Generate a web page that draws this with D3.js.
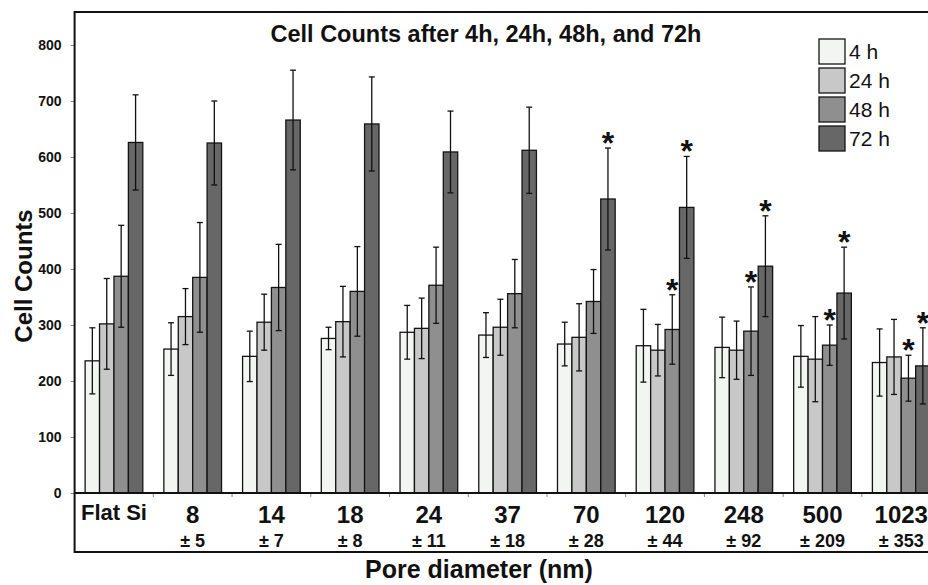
<!DOCTYPE html>
<html>
<head>
<meta charset="utf-8">
<script src="https://cdn.jsdelivr.net/npm/d3@7"></script>
<style>
  body { margin: 0; background: #fff; }
  svg text { font-family: "Liberation Sans", Arial, sans-serif; }
</style>
</head>
<body>
<svg id="chart" width="928" height="585"></svg>
<script>
// pore diameter groups and their spread
const categories = ["Flat Si", "8", "14", "18", "24", "37", "70", "120", "248", "500", "1023"];
const spreads = ["", "± 5", "± 7", "± 8", "± 11", "± 18", "± 28", "± 44", "± 92", "± 209", "± 353"];

const series = ["4 h", "24 h", "48 h", "72 h"];
const colors = ["#f3f5f3", "#c8c8c8", "#8f8f8f", "#676767"];

// mean cell counts per series
const h4 = [236, 257, 244, 276, 287, 282, 266, 263, 260, 244, 233];
const h24 = [302, 315, 305, 306, 294, 296, 278, 255, 255, 239, 243];
const h48 = [387, 385, 367, 360, 371, 356, 342, 292, 289, 264, 205];
const h72 = [626, 625, 666, 659, 609, 612, 525, 510, 405, 357, 227];

// error bar half-lengths
const h4err = [59, 47, 45, 20, 48, 40, 39, 65, 54, 55, 60];
const h24err = [81, 50, 50, 63, 54, 50, 60, 46, 52, 76, 67];
const h48err = [91, 98, 77, 80, 68, 61, 57, 62, 79, 36, 41];
const h72err = [85, 75, 89, 84, 73, 77, 91, 91, 90, 82, 68];

// significant bars (category, series)
const starred = [
  ["70", "72 h"],
  ["120", "48 h"], ["120", "72 h"],
  ["248", "48 h"], ["248", "72 h"],
  ["500", "48 h"], ["500", "72 h"],
  ["1023", "48 h"], ["1023", "72 h"],
];

const yTicks = [0, 100, 200, 300, 400, 500, 600, 700, 800];

const means = [h4, h24, h48, h72];
const errs = [h4err, h24err, h48err, h72err];

const svg = d3.select("#chart");
const plotLeft = 74.6, plotRight = 940.6, plotTop = 12, axisY = 493, plotBottom = 552;

const x0 = d3.scaleBand().domain(categories).range([plotLeft, plotRight]).padding(0);
const x1 = d3.scaleBand().domain(series).range([0, x0.bandwidth()]).paddingInner(0).paddingOuter(0.73);
const y = d3.scaleLinear().domain([0, 800]).range([axisY, 45]);

const rows = [];
categories.forEach((c, i) => {
  series.forEach((s, j) => {
    rows.push({ cat: c, ser: s, v: means[j][i], e: errs[j][i], color: colors[j] });
  });
});

// y axis
const yAxis = svg.append("g")
  .attr("transform", `translate(${plotLeft},0)`)
  .call(d3.axisLeft(y).tickValues(yTicks).tickSize(4).tickPadding(9));
yAxis.select(".domain").remove();
yAxis.selectAll(".tick line").attr("stroke", "#888");
yAxis.selectAll(".tick text")
  .attr("font-size", 14)
  .attr("font-weight", "bold")
  .attr("fill", "#111")
  .style("font-family", "'Liberation Sans', Arial, sans-serif");

// x ticks sit between groups
svg.append("g")
  .selectAll("line")
  .data(categories.slice(1))
  .join("line")
  .attr("x1", (c) => x0(c))
  .attr("x2", (c) => x0(c))
  .attr("y1", axisY)
  .attr("y2", axisY + 4)
  .attr("stroke", "#888");

// bars
const bars = svg.append("g");
bars.selectAll("rect")
  .data(rows)
  .join("rect")
  .attr("x", (d) => x0(d.cat) + x1(d.ser))
  .attr("y", (d) => y(d.v))
  .attr("width", x1.bandwidth())
  .attr("height", (d) => y(0) - y(d.v))
  .attr("fill", (d) => d.color)
  .attr("stroke", "#141414")
  .attr("stroke-width", 1.3);

// error bars
const errG = svg.append("g").attr("stroke", "#111").attr("stroke-width", 1.3);
rows.forEach((d) => {
  const cx = x0(d.cat) + x1(d.ser) + x1.bandwidth() / 2;
  errG.append("line").attr("x1", cx).attr("x2", cx).attr("y1", y(d.v + d.e)).attr("y2", y(d.v - d.e));
  [d.v + d.e, d.v - d.e].forEach((v) => {
    errG.append("line").attr("x1", cx - 3).attr("x2", cx + 3).attr("y1", y(v)).attr("y2", y(v));
  });
});

// stars
svg.append("g")
  .selectAll("text")
  .data(starred)
  .join("text")
  .attr("x", (s) => x0(s[0]) + x1(s[1]) + x1.bandwidth() / 2)
  .attr("y", (s) => {
    const d = rows.find((r) => r.cat === s[0] && r.ser === s[1]);
    return y(d.v + d.e) + 6;
  })
  .attr("text-anchor", "middle")
  .attr("font-size", 32)
  .attr("font-weight", "bold")
  .attr("fill", "#111")
  .text("*");

// frame
svg.append("path")
  .attr("d", `M${plotRight + 20},${plotTop} H${plotLeft} V${plotBottom} H${plotRight + 20}`)
  .attr("fill", "none")
  .attr("stroke", "#111")
  .attr("stroke-width", 2);
svg.append("line")
  .attr("x1", plotLeft).attr("x2", plotRight + 20)
  .attr("y1", axisY).attr("y2", axisY)
  .attr("stroke", "#111")
  .attr("stroke-width", 2);

// category labels
svg.append("g")
  .selectAll("text")
  .data(categories)
  .join("text")
  .attr("x", (c) => x0(c) + x0.bandwidth() / 2)
  .attr("y", (c, i) => (i === 0 ? 520 : 523))
  .attr("text-anchor", "middle")
  .attr("font-size", (c, i) => (i === 0 ? 22 : 24))
  .attr("font-weight", "bold")
  .attr("fill", "#111")
  .text((c) => c);

svg.append("g")
  .selectAll("text")
  .data(spreads)
  .join("text")
  .attr("x", (s, i) => x0(categories[i]) + x0.bandwidth() / 2)
  .attr("y", 547)
  .attr("text-anchor", "middle")
  .attr("font-size", 18)
  .attr("font-weight", "bold")
  .attr("fill", "#111")
  .text((s) => s);

// titles
svg.append("text")
  .attr("x", 486)
  .attr("y", 42)
  .attr("text-anchor", "middle")
  .attr("font-size", 23.5)
  .attr("font-weight", "bold")
  .attr("fill", "#111")
  .text("Cell Counts after 4h, 24h, 48h, and 72h");

svg.append("text")
  .attr("x", 479)
  .attr("y", 578)
  .attr("text-anchor", "middle")
  .attr("font-size", 25)
  .attr("font-weight", "bold")
  .attr("fill", "#111")
  .text("Pore diameter (nm)");

svg.append("text")
  .attr("transform", "translate(32,276) rotate(-90)")
  .attr("text-anchor", "middle")
  .attr("font-size", 24)
  .attr("font-weight", "bold")
  .attr("fill", "#111")
  .text("Cell Counts");

// legend
const legend = svg.append("g").attr("transform", "translate(819,39)");
const item = legend.selectAll("g")
  .data(series)
  .join("g")
  .attr("transform", (s, i) => `translate(0,${i * 29})`);
item.append("rect")
  .attr("width", 26)
  .attr("height", 25)
  .attr("fill", (s, i) => colors[i])
  .attr("stroke", "#141414")
  .attr("stroke-width", 1.3);
item.append("text")
  .attr("x", 30)
  .attr("y", 12.5)
  .attr("dy", "0.36em")
  .attr("font-size", 21)
  .attr("fill", "#111")
  .text((s) => s);
</script>
</body>
</html>
